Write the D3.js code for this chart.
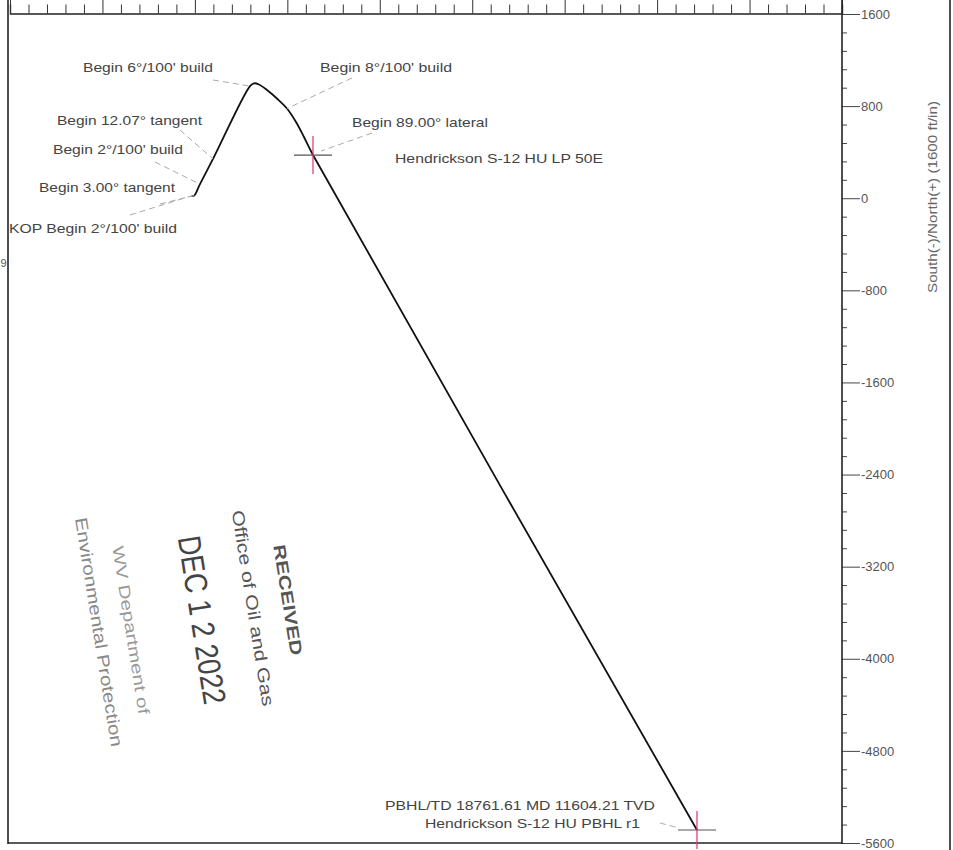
<!DOCTYPE html>
<html><head><meta charset="utf-8">
<script src="https://cdn.jsdelivr.net/npm/d3@7"></script>
<style>
html,body{margin:0;padding:0;background:#fff;}
svg{display:block;}
text{font-family:"Liberation Sans",Arial,sans-serif;}
</style></head>
<body>
<svg id="chart" width="953" height="850"></svg>
<script>
// Plan view (ft): East(+)/West(-) and North(+)/South(-)
const pathEast  = [-28, -5, 44, 157, 477, 511, 555, 624, 710, 797, 875, 944, 1022, 4345];
const pathNorth = [21, 24, 122, 341, 974, 998, 988, 940, 866, 779, 662, 532, 375, -5487];
const yTickValues = [1600, 800, 0, -800, -1600, -2400, -3200, -4000, -4800, -5600];
const yTickLabels = ["1600", "800", "0", "-800", "-1600", "-2400", "-3200", "-4000", "-4800", "-5600"];
const xMajorTicks = [-1600, -800, 0, 800, 1600, 2400, 3200, 4000, 4800, 5600];
const targetNames = ["Hendrickson S-12 HU LP 50E", "Hendrickson S-12 HU PBHL r1"];
const targetEast  = [1022, 4345];
const targetNorth = [375, -5487];
const stationLabels = ["Begin 6°/100' build", "Begin 8°/100' build", "Begin 12.07° tangent", "Begin 2°/100' build",
                       "Begin 3.00° tangent", "KOP Begin 2°/100' build", "Begin 89.00° lateral"];
const stationEast  = [477, 797, 157, 44, -5, -28, 1022];
const stationNorth = [974, 779, 341, 122, 24, 21, 375];
const pbhlText = "PBHL/TD 18761.61 MD 11604.21 TVD";

const svg = d3.select("#chart");
const x = d3.scaleLinear().domain([-1600, 5600]).range([10, 842]);
const y = d3.scaleLinear().domain([-5600, 1600]).range([843, 14]);

// frame
svg.append("line").attr("x1", 8).attr("x2", 8).attr("y1", 0).attr("y2", 844).attr("stroke", "#222").attr("stroke-width", 1.6);
svg.append("line").attr("x1", 950).attr("x2", 950).attr("y1", 0).attr("y2", 850).attr("stroke", "#222").attr("stroke-width", 1.6);
svg.append("line").attr("x1", 8).attr("x2", 842).attr("y1", 843).attr("y2", 843).attr("stroke", "#222").attr("stroke-width", 1.6);
svg.append("text").attr("x", 0.5).attr("y", 267).attr("font-size", 11).attr("fill", "#555").text("9");

// top axis (labels off-page)
const xTop = d3.axisTop(x).tickValues(d3.range(-1600, 5601, 160)).tickSize(9).tickFormat("");
const gx = svg.append("g").attr("transform", "translate(0,13.5)").call(xTop);
gx.select(".domain").attr("stroke", "#222").attr("stroke-width", 1.4);
gx.selectAll(".tick line").attr("stroke", "#333").attr("stroke-width", 1)
  .attr("y2", d => xMajorTicks.includes(d) ? -16 : -9);

// right axis
const gy = svg.append("g").attr("transform", "translate(842,0)");
gy.call(d3.axisRight(y).tickValues(d3.range(-5600, 1601, 160)).tickSize(5).tickFormat(""));
gy.select(".domain").remove();
gy.selectAll(".tick line").attr("stroke", "#444").attr("stroke-width", 1)
  .attr("x2", d => yTickValues.includes(d) ? 18 : 5);
gy.append("line").attr("x1", 0).attr("x2", 0).attr("y1", 0).attr("y2", 844).attr("stroke", "#222").attr("stroke-width", 1.6);
gy.selectAll("text.lbl").data(yTickValues).join("text").attr("class", "lbl")
  .attr("x", 19).attr("y", d => y(d)).attr("dy", "0.36em")
  .attr("font-size", 13).attr("fill", "#555")
  .text((d, i) => yTickLabels[i]);
svg.append("text").attr("transform", "translate(937,197) rotate(-90)").attr("text-anchor", "middle")
  .attr("font-size", 12).attr("fill", "#666")
  .attr("textLength", 192).attr("lengthAdjust", "spacingAndGlyphs")
  .text("South(-)/North(+) (1600 ft/in)");

// well path
const pts = pathEast.map((e, i) => [x(e), y(pathNorth[i])]);
svg.append("path").attr("d", d3.line().curve(d3.curveCatmullRom.alpha(0.5))(pts))
  .attr("fill", "none").attr("stroke", "#111").attr("stroke-width", 1.8);

// target crosses
targetEast.forEach((e, i) => {
  const cx = x(e), cy = y(targetNorth[i]);
  svg.append("line").attr("x1", cx - 19).attr("x2", cx + 19).attr("y1", cy).attr("y2", cy).attr("stroke", "#555").attr("stroke-width", 1.2);
  svg.append("line").attr("x1", cx).attr("x2", cx).attr("y1", cy - 19).attr("y2", cy + 19).attr("stroke", "#e0336a").attr("stroke-width", 1.2);
});

// station labels + leaders
function label(t, x0, x1, cy) {
  svg.append("text").attr("x", x0).attr("y", cy + 4.5)
    .attr("font-size", 13).attr("fill", "#444")
    .attr("textLength", x1 - x0).attr("lengthAdjust", "spacingAndGlyphs").text(t);
}
const labelLayout = [
  {x0: 83, x1: 213, cy: 67, from: [213, 80]},
  {x0: 320, x1: 452, cy: 67, from: [352, 78]},
  {x0: 57, x1: 202, cy: 120, from: [180, 130]},
  {x0: 53, x1: 183, cy: 149, from: [155, 162]},
  {x0: 39, x1: 175, cy: 187, from: [160, 204]},
  {x0: 9, x1: 177, cy: 228, from: [130, 215]},
  {x0: 352, x1: 488, cy: 122, from: [372, 133]}
];
stationLabels.forEach((t, i) => {
  const L = labelLayout[i];
  svg.append("line").attr("x1", L.from[0]).attr("y1", L.from[1])
    .attr("x2", x(stationEast[i]) + (i === 6 ? 8 : 0)).attr("y2", y(stationNorth[i]) - (i === 6 ? 4 : 0))
    .attr("stroke", "#aaa").attr("stroke-width", 1).attr("stroke-dasharray", "6,4");
  label(t, L.x0, L.x1, L.cy);
});
label(targetNames[0], 395, 603, 158);
label(pbhlText, 385, 655, 805);
label(targetNames[1], 425, 640, 823);
svg.append("line").attr("x1", 660).attr("y1", 823).attr("x2", x(targetEast[1]) - 18).attr("y2", y(targetNorth[1]) - 2)
  .attr("stroke", "#aaa").attr("stroke-dasharray", "6,4");

// received stamp
const stamp = [
  {t: "RECEIVED", cx: 288, cy: 600, fs: 17, len: 112, fill: "#555", w: "bold"},
  {t: "Office of Oil and Gas", cx: 253, cy: 608, fs: 17, len: 198, fill: "#555", w: "normal"},
  {t: "DEC 1 2 2022", cx: 202, cy: 620, fs: 32, len: 170, fill: "#444", w: "normal"},
  {t: "WV Department of", cx: 131, cy: 630, fs: 16, len: 170, fill: "#999", w: "normal"},
  {t: "Environmental Protection", cx: 99, cy: 632, fs: 17, len: 232, fill: "#888", w: "normal"}
];
stamp.forEach(s => {
  svg.append("text").attr("transform", `translate(${s.cx},${s.cy}) rotate(81)`)
    .attr("text-anchor", "middle").attr("dy", "0.35em")
    .attr("font-size", s.fs).attr("font-weight", s.w).attr("fill", s.fill)
    .attr("textLength", s.len).attr("lengthAdjust", "spacingAndGlyphs")
    .text(s.t);
});
</script>
</body></html>
